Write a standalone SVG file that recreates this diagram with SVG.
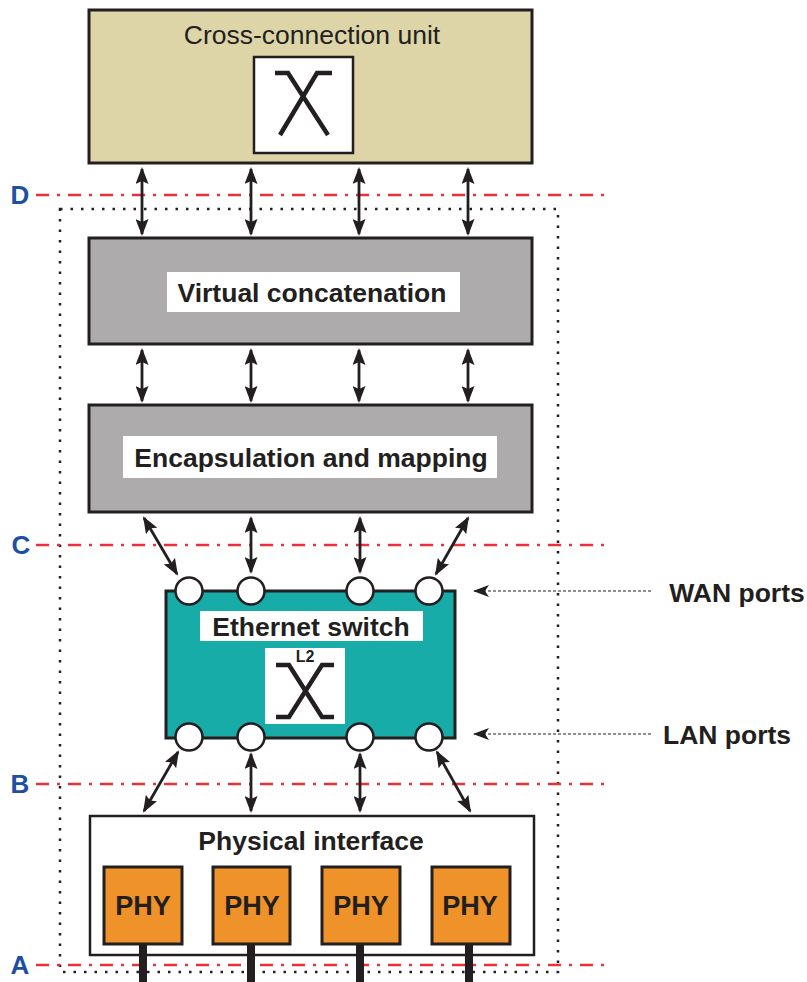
<svg xmlns="http://www.w3.org/2000/svg" width="807" height="982" viewBox="0 0 807 982">
<style>
.box{stroke:#231f20;stroke-width:3}
.lbl{font-family:"Liberation Sans",Arial,sans-serif;font-weight:bold;fill:#231f20;text-anchor:middle}
.ref{font-family:"Liberation Sans",Arial,sans-serif;font-weight:bold;fill:#1d4fa3;font-size:26px;text-anchor:middle}
.red{stroke:#e5323b;stroke-width:2.5;stroke-dasharray:13 8 3 8;fill:none}
.dot{stroke:#231f20;stroke-width:2.5;stroke-dasharray:2.5 8;fill:none}
.arr{stroke:#231f20;stroke-width:2.8;fill:none;marker-start:url(#ah);marker-end:url(#ah)}
.ptr{stroke:#231f20;stroke-width:1.2;stroke-dasharray:3 2;fill:none;marker-end:url(#ah2)}
.port{fill:#fff;stroke:#231f20;stroke-width:2.5}
.xs{stroke:#231f20;fill:none;stroke-width:4.5}
</style>
<defs>
<marker id="ah" viewBox="0 0 17 13" refX="15" refY="6.5" markerWidth="17" markerHeight="13" markerUnits="userSpaceOnUse" orient="auto-start-reverse">
<path d="M0,0 L17,6.5 L0,13 L3,6.5 Z" fill="#231f20"/>
</marker>
<marker id="ah2" viewBox="0 0 16 12" refX="15" refY="6" markerWidth="16" markerHeight="12" markerUnits="userSpaceOnUse" orient="auto">
<path d="M0,0 L16,6 L0,12 L4,6 Z" fill="#231f20"/>
</marker>
</defs>

<g id="reference-lines">
<path class="dot" d="M60,209 H558 V972 H60 Z"/>
<line class="red" x1="36" y1="195" x2="607" y2="195"/>
<line class="red" x1="36" y1="545" x2="607" y2="545"/>
<line class="red" x1="36" y1="784" x2="607" y2="784"/>
<line class="red" x1="36" y1="965" x2="607" y2="965"/>
<text class="ref" x="20" y="204">D</text>
<text class="ref" x="21" y="554">C</text>
<text class="ref" x="20" y="793">B</text>
<text class="ref" x="20" y="974">A</text>
</g>

<g id="cross-connection-unit">
<rect class="box" x="89" y="10" width="443" height="153" fill="#ddd5a7"/>
<text class="lbl" x="312" y="44" font-size="26.5" style="font-weight:normal">Cross-connection unit</text>
<rect x="254" y="57" width="99" height="96" fill="#fff" stroke="#231f20" stroke-width="2.5"/>
<path class="xs" d="M275,73 H288 L328,135 M332,73 H317 L280,135"/>
</g>

<g id="virtual-concatenation">
<rect class="box" x="89" y="238" width="443" height="106" fill="#adabac"/>
<rect x="167" y="272" width="293" height="40" fill="#fff"/>
<text class="lbl" x="312" y="302" font-size="26.5">Virtual concatenation</text>
</g>

<g id="encapsulation-mapping">
<rect class="box" x="89" y="405" width="443" height="107" fill="#adabac"/>
<rect x="123" y="436" width="374" height="42" fill="#fff"/>
<text class="lbl" x="311" y="467" font-size="26.5">Encapsulation and mapping</text>
</g>

<g id="ethernet-switch">
<rect class="box" x="166" y="591" width="289" height="147" fill="#17aca8"/>
<rect x="200" y="611" width="223" height="30" fill="#fff"/>
<text class="lbl" x="311" y="636" font-size="26.5">Ethernet switch</text>
<rect x="265" y="648" width="80" height="76" fill="#fff"/>
<path class="xs" stroke-width="5" d="M276,665 H289 L322,717 H334 M334,665 H322 L289,717 H276"/>
<text class="lbl" x="305" y="662" font-size="16">L2</text>
<circle class="port" cx="189" cy="591" r="13.5"/>
<circle class="port" cx="251" cy="591" r="13.5"/>
<circle class="port" cx="360" cy="591" r="13.5"/>
<circle class="port" cx="429" cy="591" r="13.5"/>
<circle class="port" cx="189" cy="737" r="13.5"/>
<circle class="port" cx="251" cy="737" r="13.5"/>
<circle class="port" cx="360" cy="737" r="13.5"/>
<circle class="port" cx="429" cy="737" r="13.5"/>
</g>

<g id="physical-interface">
<rect x="90" y="816" width="444" height="139" fill="#fff" stroke="#231f20" stroke-width="2.5"/>
<text class="lbl" x="311" y="850" font-size="26.5">Physical interface</text>
<g stroke="#231f20" stroke-width="8">
<line x1="143" y1="944" x2="143" y2="982"/>
<line x1="251" y1="944" x2="251" y2="982"/>
<line x1="360" y1="944" x2="360" y2="982"/>
<line x1="469" y1="944" x2="469" y2="982"/>
</g>
</g>
<g id="phy1"><rect class="box" x="104" y="867" width="78" height="77" fill="#f0922a"/><text class="lbl" x="143" y="915" font-size="27">PHY</text></g>
<g id="phy2"><rect class="box" x="213" y="867" width="77" height="77" fill="#f0922a"/><text class="lbl" x="252" y="915" font-size="27">PHY</text></g>
<g id="phy3"><rect class="box" x="322" y="867" width="78" height="77" fill="#f0922a"/><text class="lbl" x="361" y="915" font-size="27">PHY</text></g>
<g id="phy4"><rect class="box" x="432" y="867" width="78" height="77" fill="#f0922a"/><text class="lbl" x="470" y="915" font-size="27">PHY</text></g>

<g id="port-labels">
<text class="lbl" x="737" y="602" font-size="26.5">WAN ports</text>
<text class="lbl" x="727" y="744" font-size="26.5">LAN ports</text>
</g>

<g id="connectors">
<line class="arr" x1="142" y1="169" x2="142" y2="234"/>
<line class="arr" x1="251" y1="169" x2="251" y2="234"/>
<line class="arr" x1="359" y1="169" x2="359" y2="234"/>
<line class="arr" x1="468" y1="169" x2="468" y2="234"/>
<line class="arr" x1="142" y1="350" x2="142" y2="401"/>
<line class="arr" x1="251" y1="350" x2="251" y2="401"/>
<line class="arr" x1="359" y1="350" x2="359" y2="401"/>
<line class="arr" x1="468" y1="350" x2="468" y2="401"/>
<line class="arr" x1="144" y1="518" x2="177" y2="574"/>
<line class="arr" x1="251" y1="518" x2="251" y2="572"/>
<line class="arr" x1="360" y1="518" x2="360" y2="572"/>
<line class="arr" x1="468" y1="518" x2="436" y2="574"/>
<line class="arr" x1="178" y1="752" x2="144" y2="811"/>
<line class="arr" x1="251" y1="754" x2="251" y2="811"/>
<line class="arr" x1="360" y1="754" x2="360" y2="811"/>
<line class="arr" x1="437" y1="752" x2="470" y2="811"/>
<line class="ptr" x1="651" y1="591" x2="474" y2="591"/>
<line class="ptr" x1="651" y1="734" x2="474" y2="734"/>
</g>
</svg>
